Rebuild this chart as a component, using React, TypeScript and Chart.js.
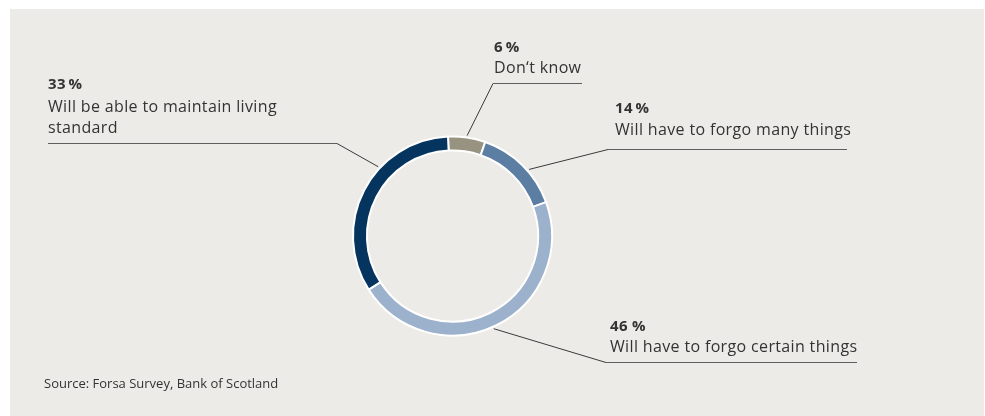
import { useEffect, useRef } from "react";
import { Chart, registerables } from "chart.js";

Chart.register(...registerables);

// ---- data ----
const categories = [
  "Don‘t know",
  "Will have to forgo many things",
  "Will have to forgo certain things",
  "Will be able to maintain living standard",
];
const values = [6, 14, 46, 33];
const valueLabels = ["6\u2009%", "14\u2009%", "46 %", "33\u2009%"];
const labelLines = [
  ["Don‘t know"],
  ["Will have to forgo many things"],
  ["Will have to forgo certain things"],
  ["Will be able to maintain living", "standard"],
];
const colors = ["#979380", "#5b7ea2", "#9cb1cb", "#05355f"];
const sourceText = "Source: Forsa Survey, Bank of Scotland";

// ---- label layout (annotation placement) ----
const labelLayout = [
  { x: 494, y: 52, gap: 21, ulY: 83, ulX1: 493, ulX2: 582, elbowX: 493, bearing: 8.3 },
  { x: 615, y: 113, gap: 22, ulY: 149, ulX1: 608, ulX2: 847, elbowX: 608, bearing: 49 },
  { x: 610, y: 331, gap: 21, ulY: 362, ulX1: 606, ulX2: 857, elbowX: 606, bearing: 156 },
  { x: 48, y: 89, gap: 23, ulY: 143, ulX1: 48, ulX2: 337, elbowX: 337, bearing: 313 },
];

const FONT = "'Open Sans', 'Noto Sans', sans-serif";

const bgPlugin = {
  id: "bg",
  beforeDraw(chart: any) {
    const ctx = chart.ctx;
    ctx.save();
    ctx.fillStyle = "#ffffff";
    ctx.fillRect(0, 0, chart.width, chart.height);
    ctx.fillStyle = "#edebe7";
    ctx.fillRect(10, 9, 974, chart.height - 9);
    ctx.restore();
  },
};

const labelPlugin = {
  id: "labels",
  afterDraw(chart: any) {
    const ctx = chart.ctx;
    const meta = chart.getDatasetMeta(0);
    const arc = meta.data[0];
    const cx = arc.x;
    const cy = arc.y;
    const r = arc.outerRadius + 2;
    ctx.save();
    labelLayout.forEach((L, i) => {
      // leader line
      const a = (L.bearing * Math.PI) / 180;
      const ax = cx + r * Math.sin(a);
      const ay = cy - r * Math.cos(a);
      ctx.strokeStyle = "#3a3a3a";
      ctx.lineWidth = 1;
      ctx.beginPath();
      ctx.moveTo(ax, ay);
      ctx.lineTo(L.elbowX, L.ulY + 0.5);
      ctx.stroke();
      ctx.strokeStyle = "#5e5e5e";
      ctx.lineWidth = 1.2;
      ctx.beginPath();
      ctx.moveTo(L.ulX1, L.ulY + 0.5);
      ctx.lineTo(L.ulX2, L.ulY + 0.5);
      ctx.stroke();
      // text
      ctx.fillStyle = "#333333";
      ctx.textBaseline = "alphabetic";
      ctx.textAlign = "left";
      ctx.font = `bold 15px ${FONT}`;
      (ctx as any).letterSpacing = "0.3px";
      ctx.fillText(valueLabels[i], L.x, L.y);
      ctx.font = `16px ${FONT}`;
      (ctx as any).letterSpacing = "0.35px";
      labelLines[i].forEach((t, j) => {
        ctx.fillText(t, L.x, L.y + L.gap + j * 20.5);
      });
    });
    (ctx as any).letterSpacing = "0px";
    ctx.font = `13px ${FONT}`;
    ctx.fillStyle = "#333333";
    ctx.fillText(sourceText, 44, 388);
    ctx.restore();
  },
};

export default function App() {
  const ref = useRef<HTMLCanvasElement | null>(null);
  useEffect(() => {
    if (!ref.current) return;
    const chart = new Chart(ref.current, {
      type: "doughnut",
      data: {
        labels: categories,
        datasets: [
          {
            data: values,
            backgroundColor: colors,
            borderColor: "#ffffff",
            borderWidth: 2,
            hoverOffset: 0,
          },
        ],
      },
      options: {
        responsive: false,
        animation: false,
        devicePixelRatio: 1,
        cutout: "86%",
        rotation: -2.6,
        layout: { padding: { left: 352, right: 432, top: 135, bottom: 79 } },
        plugins: {
          legend: { display: false },
          tooltip: { enabled: false },
          title: { display: false },
        },
      },
      plugins: [bgPlugin, labelPlugin],
    });
    return () => chart.destroy();
  }, []);
  return (
    <div style={{ position: "fixed", left: 0, top: 0, width: 985, height: 416 }}>
      <canvas ref={ref} width={985} height={416} style={{ width: 985, height: 416 }} />
    </div>
  );
}
